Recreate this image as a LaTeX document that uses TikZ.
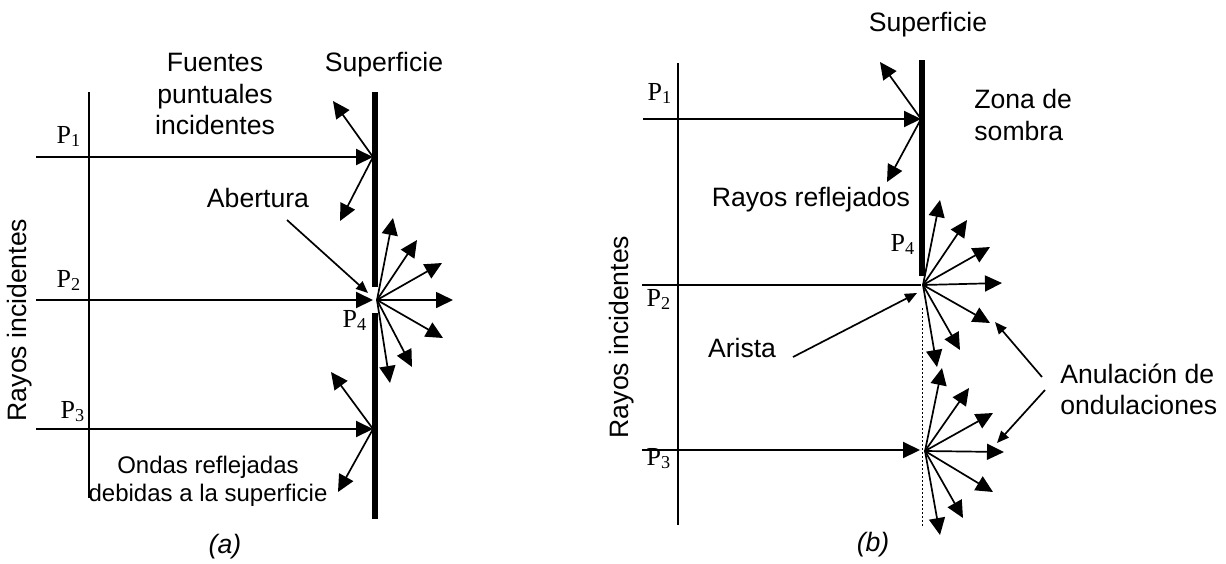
\documentclass[tikz,border=0pt]{standalone}
\usepackage{fontspec}
\setmainfont{Liberation Sans}
\newfontfamily\tnr{Liberation Serif}
\usetikzlibrary{arrows.meta}
\tikzset{
  % incident ray
  inray/.style={line width=1pt, -{Triangle[length=8.5pt,width=8pt]}},
  % reflected / diffracted ray
  outray/.style={line width=0.85pt, -{Triangle[length=8.5pt,width=8pt]}},
  % pointer from a label
  pointer/.style={line width=0.85pt, -{Triangle[length=6pt,width=5pt]}},
  % opaque surface
  surf/.style={line width=2.8pt},
  % wave front / plain ray
  front/.style={line width=0.7pt},
  % text labels
  lbl/.style={font=\fontsize{13.3pt}{15.6pt}\selectfont, inner sep=0pt, align=center},
  slbl/.style={font=\fontsize{12pt}{14pt}\selectfont, inner sep=0pt, align=center},
  plbl/.style={font=\fontsize{13pt}{15pt}\selectfont\tnr, inner sep=0pt, anchor=base},
}
\newcommand{\Pn}[1]{P\textsubscript{#1}}

\begin{document}
\begin{tikzpicture}[x=0.5pt, y=-0.5pt]
  \useasboundingbox (0,0) rectangle (1226,563);

  % ── (a): surface with aperture ──
  \coordinate (aT) at (375,92);
  \coordinate (aG1) at (375,287);
  \coordinate (aG2) at (375,313);
  \coordinate (aB) at (375,519);
  \draw[surf] (aT) -- (aG1);
  \draw[surf] (aG2) -- (aB);
  \coordinate (aFt) at (89,92);
  \coordinate (aFb) at (89,498);
  \draw[front] (aFt) -- (aFb);

  % incident rays
  \foreach \n/\y in {1/157, 2/300, 3/429} {
    \coordinate (aS\n) at (36,\y);
    \coordinate (aH\n) at (373,\y);
    \draw[inray] (aS\n) -- (aH\n);
  }
  \node[plbl] (aP1) at (69,143) {\Pn{1}};
  \node[plbl] (aP2) at (69,287) {\Pn{2}};
  \node[plbl] (aP3) at (73,418) {\Pn{3}};
  \node[plbl] (aP4) at (355,327) {\Pn{4}};

  % reflected rays
  \coordinate (aR1) at (333,101);
  \coordinate (aR2) at (340,221);
  \coordinate (aR3) at (331,372);
  \coordinate (aR4) at (338,492);
  \draw[outray] (aH1) -- (aR1);
  \draw[outray] (aH1) -- (aR2);
  \draw[outray] (aH3) -- (aR3);
  \draw[outray] (aH3) -- (aR4);

  % diffracted fan at the aperture
  \coordinate (aO) at (377,300);
  \foreach \x/\y [count=\i] in {393/218, 417/240, 442/263, 453/300, 443/338, 412/367, 390/383} {
    \coordinate (aD\i) at (\x,\y);
    \draw[outray] (aO) -- (aD\i);
  }

  % labels
  \node[lbl] (fuentes) at (215,94) {Fuentes\\puntuales\\incidentes};
  \node[lbl] (supA) at (384,65) {Superficie};
  \node[lbl] (abert) at (258,198) {Abertura};
  \coordinate (abertS) at (287,220);
  \coordinate (abertE) at (368,293);
  \draw[pointer] (abertS) -- (abertE);
  \node[slbl] (ondas) at (208,481) {Ondas reflejadas\\debidas a la superficie};
  \node[lbl, rotate=90] (rayA) at (20,320) {Rayos incidentes};
  \node[lbl, font=\fontsize{13.3pt}{15.6pt}\selectfont\itshape] (capA) at (225,547) {(a)};

  % ── (b): surface with an edge ──
  \coordinate (bT) at (922,60);
  \coordinate (bE) at (922,276);
  \draw[surf] (bT) -- (bE);
  \coordinate (bDt) at (922,308);
  \coordinate (bDb) at (922,527);
  \draw[front, line width=0.5pt, dash pattern=on 1pt off 1pt] (bDt) -- (bDb);
  \coordinate (bFt) at (678,63);
  \coordinate (bFb) at (678,525);
  \draw[front] (bFt) -- (bFb);

  % incident rays
  \coordinate (bS1) at (643,119);
  \coordinate (bH1) at (921,119);
  \draw[inray] (bS1) -- (bH1);
  \coordinate (bS2) at (642,285);
  \coordinate (bH2) at (921,285);
  \draw[front, line width=1pt] (bS2) -- (bH2);
  \coordinate (bS3) at (642,450);
  \coordinate (bH3) at (920,450);
  \draw[inray] (bS3) -- (bH3);
  \node[plbl] (bP1) at (660,100) {\Pn{1}};
  \node[plbl] (bP2) at (659,306) {\Pn{2}};
  \node[plbl] (bP3) at (659,465) {\Pn{3}};
  \node[plbl] (bP4) at (903,251) {\Pn{4}};

  % reflected rays
  \coordinate (bR1) at (880,62);
  \coordinate (bR2) at (887,182);
  \draw[outray] (bH1) -- (bR1);
  \draw[outray] (bH1) -- (bR2);

  % diffracted fans
  \coordinate (bO) at (923,285);
  \foreach \x/\y [count=\i] in {940/200, 967/220, 990/247, 1002/283, 990/323, 960/350, 937/367} {
    \coordinate (bD\i) at (\x,\y);
    \draw[outray] (bO) -- (bD\i);
  }
  \coordinate (bQ) at (925,451);
  \foreach \x/\y [count=\i] in {942/368, 969/388, 993/413, 1004/452, 993/492, 963/518, 940/535} {
    \coordinate (bW\i) at (\x,\y);
    \draw[outray] (bQ) -- (bW\i);
  }

  % labels
  \node[lbl] (supB) at (928,25) {Superficie};
  \node[lbl, anchor=west, align=left] (zona) at (974,115) {Zona de\\sombra};
  \node[lbl] (reflej) at (811,200) {Rayos reflejados};
  \node[lbl] (arista) at (742,348) {Arista};
  \coordinate (aristaS) at (793,357);
  \coordinate (aristaE) at (917,293);
  \draw[pointer] (aristaS) -- (aristaE);
  \node[lbl, anchor=west, align=left] (anul) at (1060,389) {Anulación de\\ondulaciones};
  \coordinate (anulS1) at (1042,377);
  \coordinate (anulE1) at (995,322);
  \coordinate (anulS2) at (1045,390);
  \coordinate (anulE2) at (997,443);
  \draw[pointer] (anulS1) -- (anulE1);
  \draw[pointer] (anulS2) -- (anulE2);
  \node[lbl, rotate=90] (rayB) at (622,337) {Rayos incidentes};
  \node[lbl, font=\fontsize{13.3pt}{15.6pt}\selectfont\itshape] (capB) at (873,545) {(b)};

\end{tikzpicture}
\end{document}
